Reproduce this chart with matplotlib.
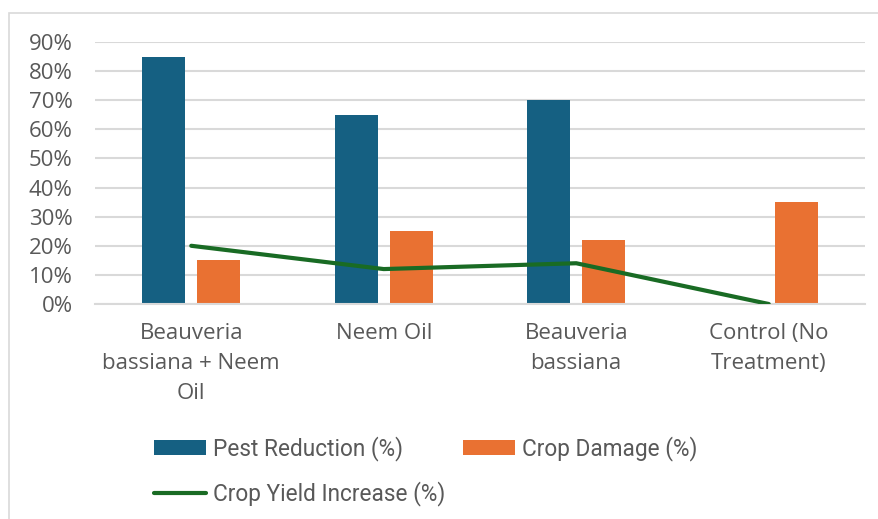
import matplotlib
matplotlib.use("Agg")
import matplotlib.pyplot as plt
import numpy as np
from matplotlib.patches import Rectangle

# data
categories = ["Beauveria\nbassiana + Neem\nOil", "Neem Oil",
              "Beauveria\nbassiana", "Control (No\nTreatment)"]
pest_reduction = [0.85, 0.65, 0.70, 0.0]
crop_damage = [0.15, 0.25, 0.22, 0.35]
yield_increase = [0.20, 0.12, 0.14, 0.0]

blue = "#156082"
orange = "#E97132"
green = "#196B24"
grey_txt = "#595959"
grid_col = "#D9D9D9"

fig = plt.figure(figsize=(8.79, 5.19), dpi=100)
fig.patches.append(Rectangle((9 / 879, -0.1), 1.2, 1.1 - 13 / 519,
                             transform=fig.transFigure, fill=False,
                             edgecolor=grid_col, linewidth=1.2))
ax = fig.add_axes([95 / 879, 1 - 304 / 519, 770 / 879, 262 / 519])

x = np.arange(len(categories))
w = 0.225
off = 0.143
b1 = ax.bar(x - off, pest_reduction, w, color=blue, label="Pest Reduction (%)", zorder=2)
b2 = ax.bar(x + off, crop_damage, w, color=orange, label="Crop Damage (%)", zorder=2)
ln, = ax.plot(x, yield_increase, color=green, lw=3, solid_capstyle="round",
              label="Crop Yield Increase (%)", zorder=3)

ax.set_xlim(-0.5, 3.5)
ax.set_ylim(0, 0.9)
ax.set_yticks(np.arange(0, 0.91, 0.1))
ax.set_yticklabels([f"{int(round(v * 100))}%" for v in np.arange(0, 0.91, 0.1)])
ax.set_xticks(x)
ax.set_xticklabels(categories, linespacing=1.55)
ax.grid(axis="y", color=grid_col, lw=1.5, zorder=0)
for s in ["top", "right", "left"]:
    ax.spines[s].set_visible(False)
ax.spines["bottom"].set_color(grid_col)
ax.spines["bottom"].set_linewidth(1.5)
ax.tick_params(length=0, colors=grey_txt, labelsize=16)
ax.tick_params(axis="y", pad=16)
ax.tick_params(axis="x", pad=14)
for t in ax.get_xticklabels() + ax.get_yticklabels():
    t.set_fontfamily(["Open Sans", "DejaVu Sans"])

leg = fig.legend([b1, ln, b2],
                 ["Pest Reduction (%)", "Crop Yield Increase (%)", "Crop Damage (%)"],
                 ncol=2, loc="upper left", bbox_to_anchor=(154 / 879, 1 - 436 / 519),
                 frameon=False, handlelength=2.3, handleheight=0.6, handletextpad=0.3,
                 columnspacing=0.8, labelspacing=0.9, borderpad=0, borderaxespad=0,
                 prop={"family": ["Roboto", "DejaVu Sans"], "size": 16.3})
for t in leg.get_texts():
    t.set_color(grey_txt)

fig.savefig("out.png", dpi=100)
